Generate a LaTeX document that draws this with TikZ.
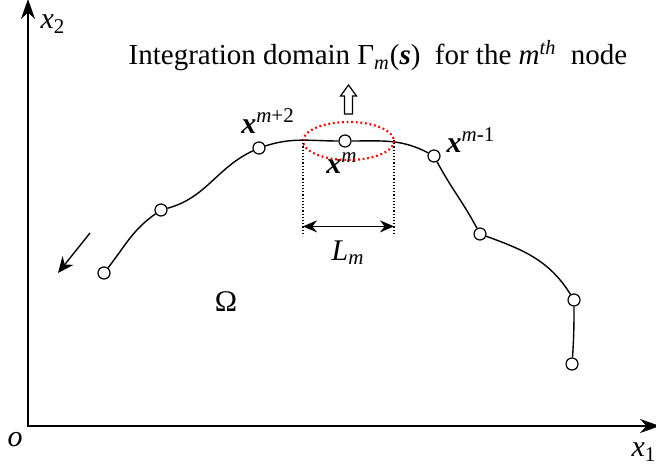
\documentclass[tikz,border=0pt]{standalone}
\usepackage{fontspec}
\setmainfont{Liberation Serif}
\usetikzlibrary{arrows.meta,calc}
\newcommand{\bx}{\textbf{\textit{x}}}

\begin{document}
\begin{tikzpicture}[x=0.5pt, y=-0.5pt, >={Stealth[length=10pt,width=7pt]},
                    every node/.style={inner sep=1pt, font=\fontsize{15}{18}\selectfont},
                    pt/.style={circle, draw, fill=white, line width=0.6pt, minimum size=6pt, inner sep=0pt},
                    axis/.style={line width=0.8pt, line join=miter},
                    curve/.style={line width=0.7pt},
                    guide/.style={line width=0.6pt, dash pattern=on 0.6pt off 1pt},
                    gammadom/.style={red, line width=1.1pt, dash pattern=on 0.9pt off 1.4pt}]
  \useasboundingbox (0,0) rectangle (656,469);
  % axes
  \coordinate (o)  at (28,426);
  \coordinate (e1) at (660,426);
  \coordinate (e2) at (28,-1);
  \draw[axis, <->] (e2) -- (o) -- (e1);
  \node (lo)  at (15,440) {\textit{o}};
  \node (lx1) at (644,452) {\textit{x}\textsubscript{1}};
  \node (lx2) at (53,24)  {\textit{x}\textsubscript{2}};

  % boundary nodes
  \node[pt] (p1) at (104,273) {};
  \node[pt] (p2) at (161,210) {};
  \node[pt] (p3) at (259,148) {};
  \node[pt] (p4) at (345,141) {};
  \node[pt] (p5) at (434,156) {};
  \node[pt] (p6) at (480,234) {};
  \node[pt] (p7) at (574,300) {};
  \node[pt] (p8) at (572,364) {};
  \draw[curve] (p1) to[out=52, in=215] (p2)
               (p2) to[out=15, in=205] (p3)
               (p3) to[out=18, in=180] (p4)
               (p4) to[out=0, in=152] (p5)
               (p5) to[out=-62, in=118] (p6)
               (p6) to[out=-20, in=122] (p7)
               (p7) to[out=-90, in=86] (p8);

  \node (lm2) at (268,121) {\bx\textsuperscript{\textit{m}+2}};
  \node (lm)  at (342,163) {\bx\textsuperscript{\textit{m}}};
  \node (lm1) at (471,140) {\bx\textsuperscript{\textit{m}-1}};

  % integration domain
  \draw[gammadom] (348.5,141) ellipse [x radius=45.5, y radius=19];
  \coordinate (gl) at (303,140);
  \coordinate (gr) at (394,140);
  \coordinate (gl') at (303,236);
  \coordinate (gr') at (394,236);
  \draw[guide] (gl) -- (gl');
  \draw[guide] (gr) -- (gr');
  \draw[<->, line width=0.8pt, >={Stealth[length=7pt,width=6pt]}] ($(gl)!0.9!(gl')$) -- ($(gr)!0.9!(gr')$);
  \node (len) at (348,253) {\textit{L}\textsubscript{\textit{m}}};
  \draw[line width=0.6pt] (344.5,114) -- (344.5,96) -- (340.5,96) -- (348.5,85) -- (356.5,96)
      -- (352.5,96) -- (352.5,114) -- cycle;

  % direction of travel
  \coordinate (d1) at (90,233);
  \coordinate (d2) at (58,273);
  \draw[->, line width=0.7pt, >={Stealth[length=8pt,width=7pt]}] (d1) -- (d2);

  \node (om) at (226,302) {Ω};
  \node[anchor=base, font=\fontsize{14.5}{17}\selectfont] (title) at (378,65)
      {Integration domain Γ\textsubscript{\textit{m}}(\textbf{\textit{s}})\ \ for the \textit{m}\textsuperscript{\textit{th}}\ \ node};
\end{tikzpicture}
\end{document}
